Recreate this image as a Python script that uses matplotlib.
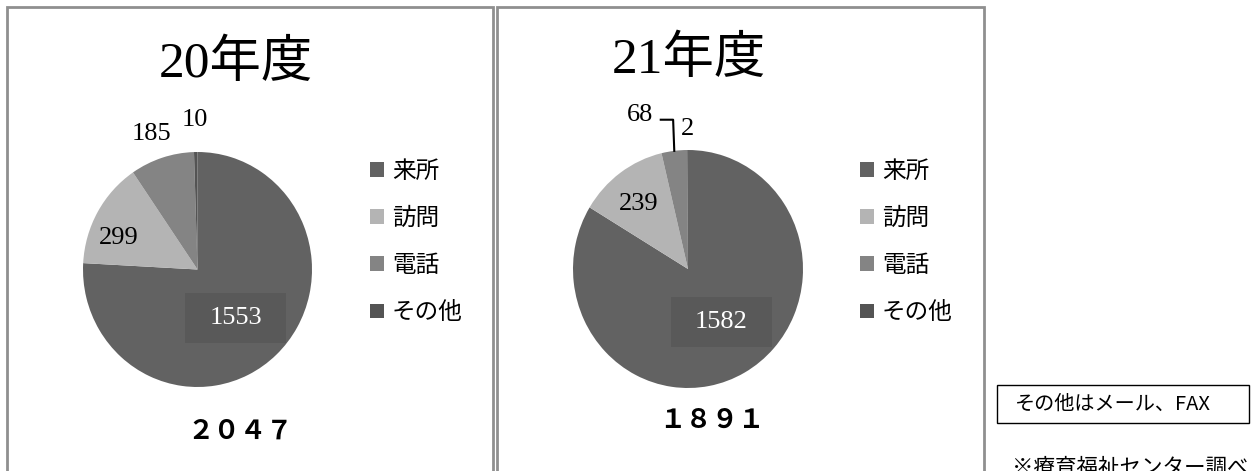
import numpy as np
import matplotlib.pyplot as plt
from matplotlib.patches import Rectangle

# データ
categories = ["来所", "訪問", "電話", "その他"]
titles = ["20年度", "21年度"]
totals = ["２０４７", "１８９１"]
values_20 = [1553, 299, 185, 10]
values_21 = [1582, 239, 68, 2]
note_text = "その他はメール、FAX"
source_text = "※療育福祉センター調べ"

colors = ["#626262", "#b4b4b4", "#848484", "#545454"]

W, H = 1252, 471
SERIF = ["Liberation Serif", "Noto Sans CJK JP"]
GOTHIC = ["Noto Sans CJK JP", "DejaVu Sans"]


def fx(x):
    return x / W


def fy(y):
    return 1 - y / H


def draw_pie(fig, values, cx, cy, rx, ry, label_r, label_shift, leader=None):
    ax = fig.add_axes([fx(cx - rx), fy(cy + ry), 2 * rx / W, 2 * ry / H])
    wedges, _ = ax.pie(values, colors=colors, startangle=90, counterclock=False,
                       radius=1, wedgeprops=dict(linewidth=0))
    ax.set_xlim(-1, 1)
    ax.set_ylim(-1, 1)
    ax.set_aspect("auto")
    ax.set_axis_off()
    for i, (w, v) in enumerate(zip(wedges, values)):
        mid = np.deg2rad((w.theta1 + w.theta2) / 2 + label_shift[i])
        x, y = label_r[i] * np.cos(mid), label_r[i] * np.sin(mid)
        if i == 0:
            # подложка под большую подпись
            ax.add_patch(Rectangle((x - 0.44, y - 0.21), 0.88, 0.42,
                                   facecolor="#595959", edgecolor="none", zorder=3))
            ax.text(x, y, str(v), ha="center", va="center", fontsize=19,
                    family=SERIF, color="white", zorder=4)
        else:
            ax.text(x, y, str(v), ha="center", va="center", fontsize=19,
                    family=SERIF, color="black", clip_on=False)
        if leader is not None and i == leader:
            m0 = np.deg2rad((w.theta1 + w.theta2) / 2)
            x0, y0 = np.cos(m0), np.sin(m0)
            ax.plot([x0, x0 - 0.01, x + 0.18], [y0, y - 0.04, y - 0.04],
                    color="black", lw=1.5, clip_on=False)
    return wedges


fig = plt.figure(figsize=(12.52, 4.71), dpi=100)

# рамки панелей
for x0, x1 in [(7, 493), (497, 984)]:
    fig.patches.append(Rectangle((fx(x0), fy(490)), (x1 - x0) / W, 483 / H,
                                 transform=fig.transFigure, fill=False,
                                 edgecolor="#8f8f8f", lw=2))

w1 = draw_pie(fig, values_20, 197.5, 269.5, 114.5, 117.5,
              [0.53, 0.74, 1.22, 1.27], [-4.5, 8, 1, 0])
w2 = draw_pie(fig, values_21, 688, 269, 115, 119,
              [0.53, 0.69, 1.36, 1.18], [3.6, 2, 11, 0.2], leader=2)

fig.text(fx(236), fy(64), titles[0], ha="center", va="center", fontsize=37, family=SERIF)
fig.text(fx(689), fy(60), titles[1], ha="center", va="center", fontsize=37, family=SERIF)

fig.text(fx(240), fy(431), totals[0], ha="center", va="center", fontsize=19,
         family=GOTHIC, weight="bold")
fig.text(fx(712), fy(420), totals[1], ha="center", va="center", fontsize=19,
         family=GOTHIC, weight="bold")

for wedges, lx in [(w1, 370), (w2, 860)]:
    fig.legend(wedges, categories, loc="upper left", bbox_to_anchor=(fx(lx), fy(160)),
               frameon=False, borderpad=0, borderaxespad=0, handlelength=0.58,
               handleheight=0.58, handletextpad=0.35, labelspacing=1.02,
               prop=dict(family=GOTHIC, size=17))

# примечание
fig.patches.append(Rectangle((fx(997), fy(423)), 252 / W, 38 / H,
                             transform=fig.transFigure, fill=False,
                             edgecolor="black", lw=1))
fig.text(fx(1015), fy(404), note_text, ha="left", va="center", fontsize=14.5, family=GOTHIC)
fig.text(fx(1012), fy(457), source_text, ha="left", va="top", fontsize=15.5, family=GOTHIC)

fig.savefig("out.png", dpi=100, facecolor="white")
